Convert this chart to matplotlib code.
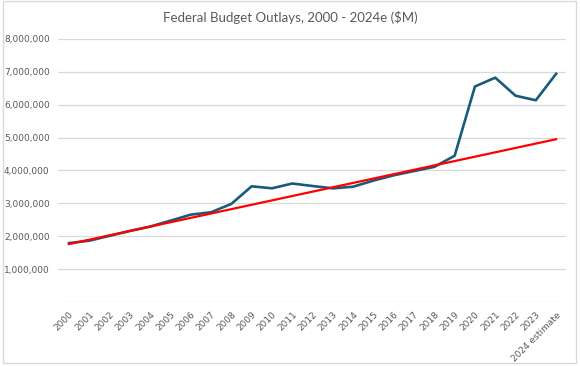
import numpy as np
import matplotlib.pyplot as plt
from matplotlib.patches import Rectangle
from matplotlib.ticker import FuncFormatter

years = [str(y) for y in range(2000, 2024)] + ['2024 estimate']
outlays = [1789000, 1862846, 2010894, 2159899, 2292841, 2471957, 2655050,
           2728686, 2982544, 3517677, 3457079, 3603065, 3526563, 3454881,
           3506284, 3691850, 3852616, 3981634, 4109044, 4446960, 6553620,
           6822470, 6273259, 6134672, 6941000]
# trend line end points (first and last category)
trend_ends = [1760000, 4950000]

grey = '#595959'
x = np.arange(len(years))

fig = plt.figure(figsize=(5.8, 3.66), dpi=100)
ax = fig.add_axes([0.1, 0.175, 0.876, 0.7186])

ax.plot(x, outlays, color='#195b7a', lw=1.9, solid_joinstyle='round', zorder=3)
ax.plot([x[0], x[-1]], trend_ends, color='#ff0000', lw=1.6, zorder=4)

ax.set_xlim(-0.54, 24.49)
ax.set_ylim(0, 8000000)
ax.set_yticks(np.arange(0, 8000001, 1000000))
ax.yaxis.set_major_formatter(FuncFormatter(lambda v, p: '' if v == 0 else f'{int(v):,}'))
ax.grid(axis='y', color='#d9d9d9', lw=0.9)
ax.set_axisbelow(True)
for s in ax.spines.values():
    s.set_visible(False)
ax.tick_params(axis='both', length=0, colors=grey, labelsize=6.5)
ax.tick_params(axis='y', pad=6)
ax.set_xticks(x)
ax.set_xticklabels(years, rotation=45, ha='right', rotation_mode='anchor')
ax.tick_params(axis='x', pad=6)

fig.text(0.5, 0.952, 'Federal Budget Outlays, 2000 - 2024e ($M)', ha='center',
         va='center', fontsize=9.5, color=grey, family='Lato')

fig.patches.append(Rectangle((3 / 580, 3 / 366), 573 / 580, 362 / 366,
                             transform=fig.transFigure, fill=False,
                             edgecolor='#d9d9d9', lw=1))

plt.savefig('out.png', dpi=100)
plt.close('all')
